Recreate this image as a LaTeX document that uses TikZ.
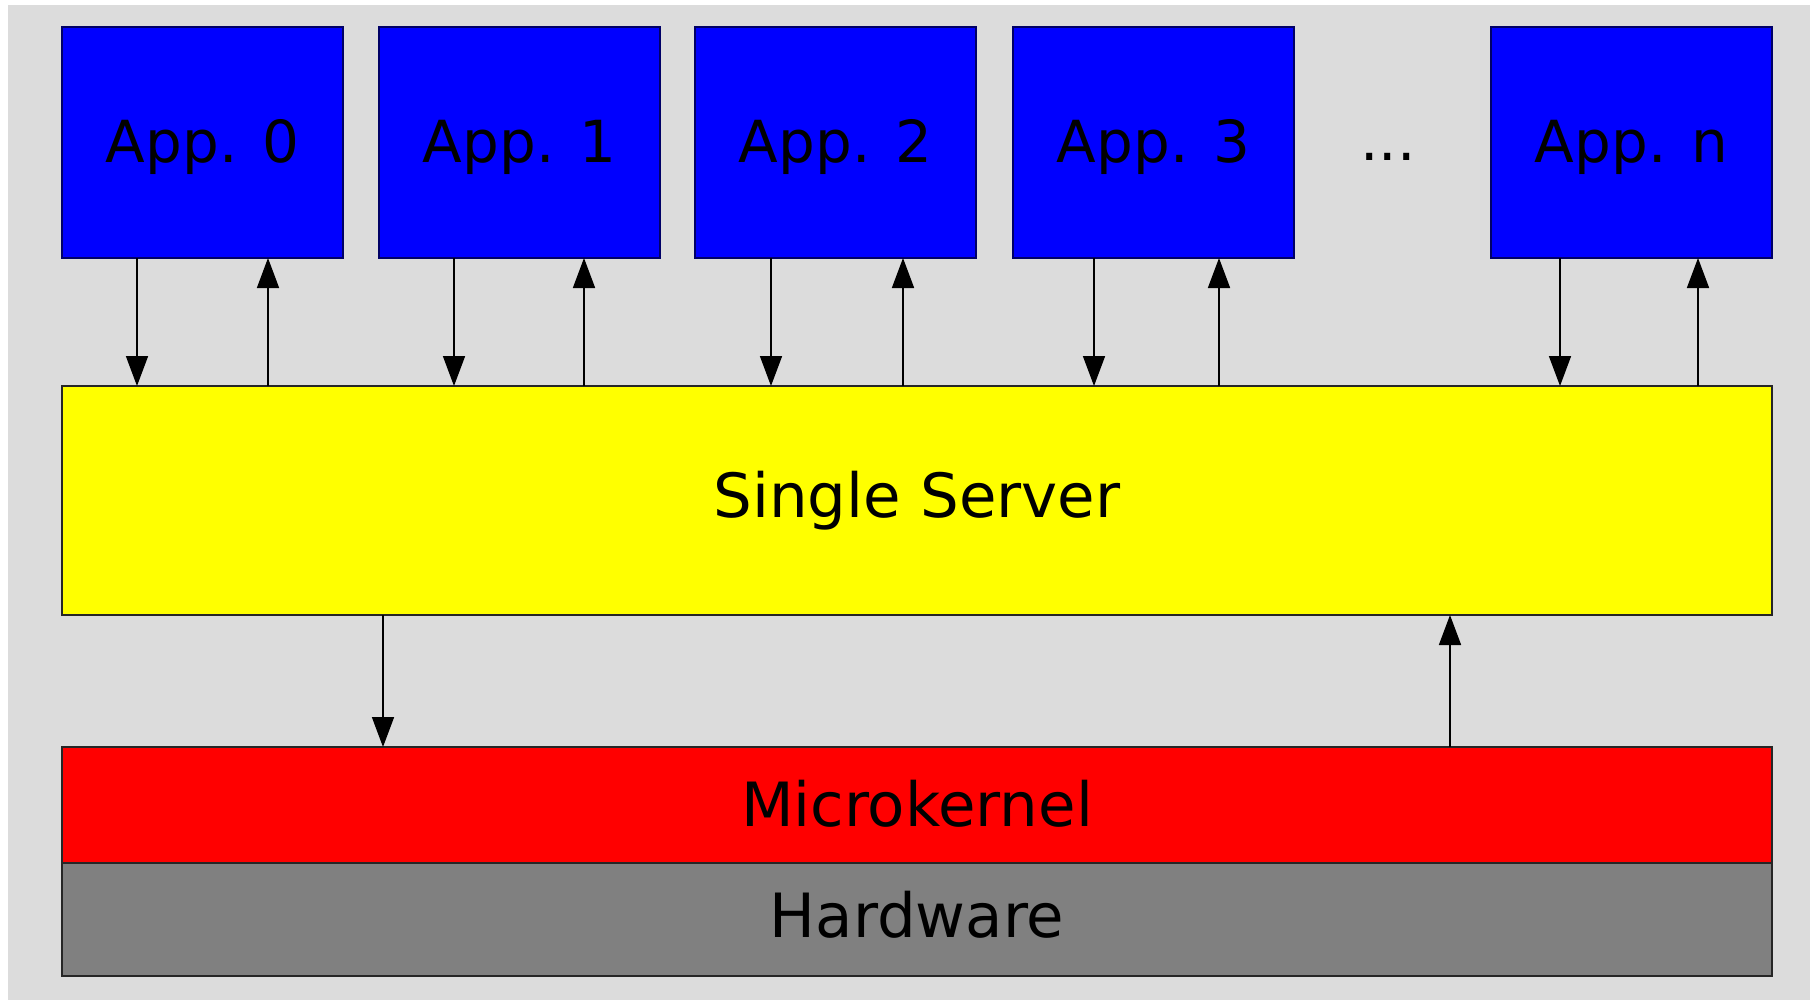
\documentclass[tikz,border=0pt]{standalone}
\usepackage{fontspec}
\setmainfont{DejaVu Sans}
\usetikzlibrary{arrows.meta}
\definecolor{bggray}{HTML}{DCDCDC}
\definecolor{hwgray}{HTML}{808080}
\definecolor{appblue}{HTML}{0000FF}
\definecolor{srvyellow}{RGB}{255,255,0}
\definecolor{mkred}{RGB}{255,0,0}
\begin{document}
\begin{tikzpicture}[x=1pt,y=-1pt,
  box/.style={draw=black!85, line width=1.6pt, anchor=north west, inner sep=0pt, outer sep=0pt,
    font=\fontsize{58}{64}\selectfont},
  appbox/.style={box, fill=appblue, draw=blue!40!black, minimum width=281pt, minimum height=231pt,
    text height=54pt, text depth=14pt},
  wide/.style={box, minimum width=1710pt, font=\fontsize{61}{68}\selectfont},
  conn/.style={line width=1.6pt, -{Triangle[length=30pt,width=22pt]}}
]
\useasboundingbox (0,0) rectangle (1817,1005);
\fill[white] (0,0) rectangle (1817,1005);
\fill[bggray] (8,5) rectangle (1810,1000);

\node[appbox] (a0) at (62,27) {App. 0};
\node[appbox] (a1) at (379,27) {App. 1};
\node[appbox] (a2) at (695,27) {App. 2};
\node[appbox] (a3) at (1013,27) {App. 3};
\node[appbox] (an) at (1491,27) {App. n};
\node[font=\fontsize{58}{64}\selectfont, anchor=base] (dots) at (1388,160) {...};

\node[wide, fill=srvyellow, minimum height=229pt] (srv) at (62,386) {Single Server};
\node[wide, fill=mkred, minimum height=116pt, text depth=4pt] (mk) at (62,747) {Microkernel};
\node[wide, fill=hwgray, minimum height=113pt, text depth=10pt] (hw) at (62,863) {Hardware};

% app <-> server
\foreach \n/\d/\u in {a0/137/268, a1/454/584, a2/771/903, a3/1094/1219, an/1560/1698}{
  \draw[conn] (\n.south -| \d,0) -- (srv.north -| \d,0);
  \draw[conn] (srv.north -| \u,0) -- (\n.south -| \u,0);
}
% server <-> microkernel
\draw[conn] (srv.south -| 383,0) -- (mk.north -| 383,0);
\draw[conn] (mk.north -| 1450,0) -- (srv.south -| 1450,0);
\end{tikzpicture}
\end{document}
